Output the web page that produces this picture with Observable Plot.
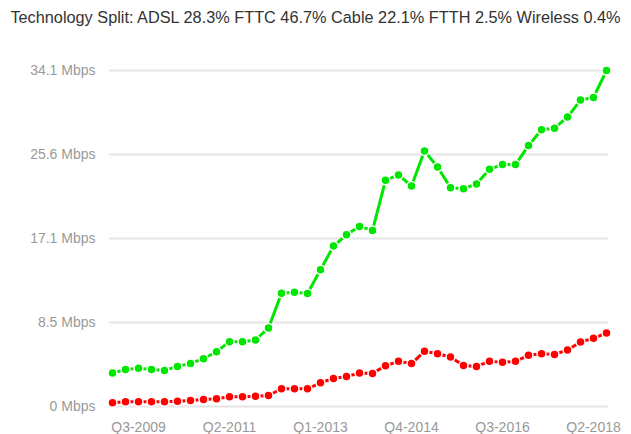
<!DOCTYPE html>
<html><head><meta charset="utf-8">
<script src="https://cdn.jsdelivr.net/npm/d3@7"></script>
<script src="https://cdn.jsdelivr.net/npm/@observablehq/plot@0.6"></script>
<style>
body{margin:0;background:#fff;font-family:"Liberation Sans",Arial,sans-serif;}
#title{height:34px;line-height:34px;font-size:16.3px;color:#333;text-align:center;white-space:nowrap;}
</style></head><body>
<div id="title">Technology Split: ADSL 28.3% FTTC 46.7% Cable 22.1% FTTH 2.5% Wireless 0.4%</div>
<div id="chart"></div>
<script>
const quarters = [];
for (let y = 2009; y <= 2018; y++) for (let q = 1; q <= 4; q++) quarters.push(`Q${q}-${y}`);
quarters.splice(39);
const downloadMbps = [3.39,3.76,3.87,3.76,3.66,4.07,4.37,4.85,5.56,6.58,6.58,6.75,7.97,
  11.5,11.6,11.46,13.87,16.28,17.43,18.28,17.87,22.96,23.5,22.38,
  25.94,24.31,22.21,22.11,22.58,24.08,24.55,24.55,26.48,28.08,28.25,29.37,31.1,31.36,34.1];
const uploadMbps = [0.37,0.47,0.47,0.47,0.47,0.54,0.61,0.71,0.78,0.98,0.98,1.05,1.12,
  1.8,1.8,1.8,2.41,2.85,3.05,3.39,3.36,4.14,4.58,4.36,
  5.6,5.36,5.02,4.17,4.07,4.58,4.48,4.58,5.19,5.36,5.29,5.73,6.54,6.92,7.46];
const tickQuarters = ["Q3-2009","Q2-2011","Q1-2013","Q4-2014","Q3-2016","Q2-2018"];
const yTicks = [0, 8.525, 17.05, 25.575, 34.1];
const seriesNames = ["download", "upload"];
const seriesColors = ["#00e600", "#ff0000"];

const data = [
  ...quarters.map((q, i) => ({q, v: downloadMbps[i], s: "download"})),
  ...quarters.map((q, i) => ({q, v: uploadMbps[i], s: "upload"}))
];

const chart = Plot.plot({
  width: 631,
  height: 400,
  marginLeft: 109,
  marginRight: 23,
  marginTop: 36,
  marginBottom: 28,
  style: {fontFamily: '"Liberation Sans", Arial, sans-serif', fontSize: "14px", background: "#fff"},
  x: {type: "point", domain: quarters, padding: 0},
  y: {domain: [0, 34.1]},
  color: {domain: seriesNames, range: seriesColors},
  marks: [
    Plot.ruleY(yTicks, {stroke: "#e6e6e6", strokeWidth: 2}),
    Plot.axisY({ticks: yTicks, tickSize: 0, tickPadding: 14, fill: "#999", label: null,
      tickFormat: d => d === 0 ? "0 Mbps" : d.toFixed(1) + " Mbps"}),
    Plot.axisX({ticks: tickQuarters, tickSize: 0, tickPadding: 16, fill: "#999", label: null}),
    Plot.line(data, {x: "q", y: "v", z: "s", stroke: "s", strokeWidth: 3}),
    Plot.dot(data, {x: "q", y: "v", fill: "s", r: 4.5, stroke: "white", strokeWidth: 1.5})
  ]
});
document.getElementById("chart").appendChild(chart);
</script>
</body></html>
